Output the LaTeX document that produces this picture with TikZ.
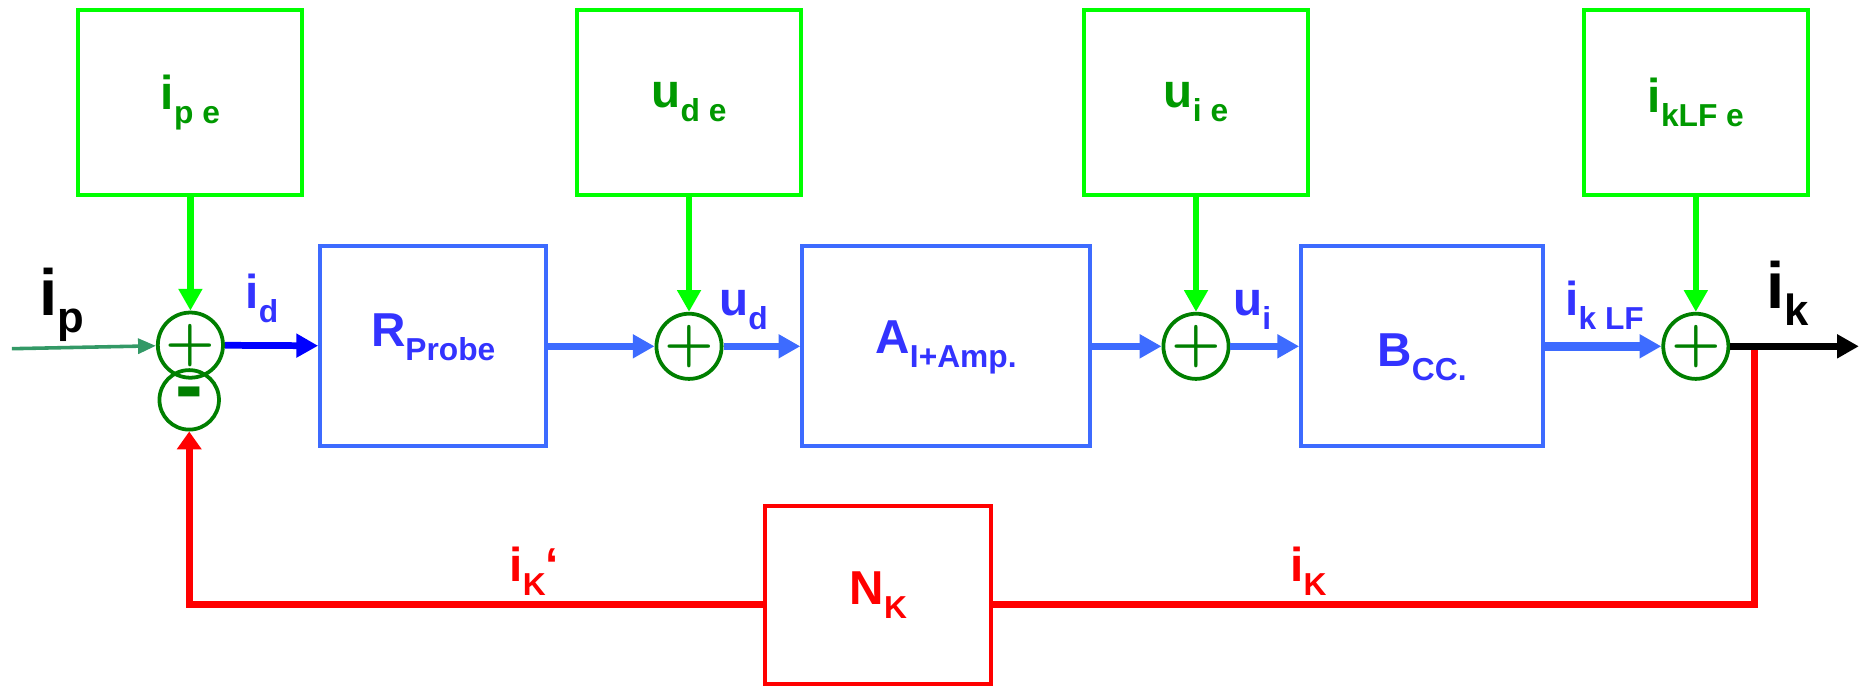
\documentclass[tikz,border=0pt]{standalone}
\usepackage{fontspec}
\setmainfont{Liberation Sans}
\newfontfamily\plusfont{lmroman10-bold.otf}
\usepackage{xcolor}
\usetikzlibrary{arrows.meta, positioning}

\definecolor{limegreen}{HTML}{00FF00}
\definecolor{sumgreen}{HTML}{007F00}
\definecolor{labelgreen}{HTML}{009900}
\definecolor{boxblue}{HTML}{3D6BFF}
\definecolor{textblue}{HTML}{3333FF}
\definecolor{seagreen}{HTML}{339966}

\newcommand{\lsub}[1]{\raisebox{-7pt}{\fontsize{16}{16}\selectfont #1}}
\newcommand{\bigsub}[1]{\raisebox{-8.5pt}{\fontsize{22}{22}\selectfont #1}}
\newcommand{\boxtext}[2]{\smash{\raisebox{#1}{#2}}}

\begin{document}
\begin{tikzpicture}[x=0.6pt, y=-0.6pt,
  font=\bfseries\fontsize{24}{24}\selectfont,
  errbox/.style={draw=limegreen, line width=2pt, text=labelgreen, minimum width=113pt, minimum height=93pt, inner sep=0pt},
  blockbox/.style={draw=boxblue, line width=2pt, text=textblue, minimum height=101pt, inner sep=0pt},
  fbbox/.style={draw=red, line width=2pt, text=red, minimum width=114pt, minimum height=90pt, inner sep=0pt},
  sumnode/.style={circle, draw=sumgreen, line width=1.9pt, text=sumgreen, minimum size=30pt, inner sep=0pt, font=\plusfont\fontsize{28}{28}\selectfont},
  lbl/.style={anchor=base west, inner sep=0pt},
  bigtip/.style={-{Triangle[length=11pt, width=11.5pt]}},
  gline/.style={draw=limegreen, line width=3.2pt, bigtip},
  bline/.style={draw=boxblue, line width=3.4pt, bigtip},
  fbline/.style={draw=red, line width=3.6pt}]
\useasboundingbox (0,0) rectangle (1568,578);

\foreach \nm/\x/\txt in {epe/160/{i\lsub{p e}}, ede/579/{u\lsub{d e}}, eie/1005/{u\lsub{i e}}, eklf/1425/{i\lsub{kLF e}}}
  \node[errbox] (\nm) at (\x,86) {\txt};

\node[blockbox, minimum width=114pt] (R) at (364,291) {\boxtext{0pt}{R\lsub{Probe}}};
\node[blockbox, minimum width=145pt] (A) at (795,291) {\boxtext{-3.6pt}{A\lsub{I+Amp.}}};
\node[blockbox, minimum width=122pt] (B) at (1195,291) {\boxtext{-10pt}{B\lsub{CC.}}};
\node[fbbox] (N) at (738,500) {N\lsub{K}};

\node[sumnode] (s1) at (160,290) {+};
\node[sumnode, font=\bfseries\fontsize{42}{42}\selectfont] (m1) at (159,336) {-};
\node[sumnode] (s2) at (579,291) {+};
\node[sumnode] (s3) at (1005,291) {+};
\node[sumnode] (s4) at (1425,291) {+};

\foreach \a/\b in {epe/s1, ede/s2, eie/s3, eklf/s4}
  \draw[gline] (\a) -- (\b);

\coordinate (ipin) at (10,293);
\draw[draw=seagreen, line width=1.8pt, -{Triangle[length=9pt, width=7.5pt]}] (ipin) -- (s1);
\draw[draw=blue, line width=3.4pt, bigtip] (s1) -- (R);
\draw[bline] (R) -- (s2);
\draw[bline] (s2) -- (A);
\draw[bline] (A) -- (s3);
\draw[bline] (s3) -- (B);
\draw[bline, line width=4.6pt] (B) -- (s4);

\coordinate (tap) at (1474,291);
\coordinate (rc) at (1474,508);
\draw[fbline] (tap) -- (rc) -- (rc -| N.east);
\draw[fbline, -{Triangle[length=9pt, width=12pt]}] (rc -| N.west) -- (m1 |- rc) -- (m1);

\coordinate (ikout) at (1562,291);
\draw[line width=3.4pt, bigtip] (s4) -- (ikout);

\node[lbl] (lip) at (33,265) {\fontsize{33}{33}\selectfont i\bigsub{p}};
\node[lbl, text=textblue] (lid) at (206,259) {i\lsub{d}};
\node[lbl, text=textblue] (lud) at (604,265) {u\lsub{d}};
\node[lbl, text=textblue] (lui) at (1036,265) {u\lsub{i}};
\node[lbl, text=textblue] (liklf) at (1315,265) {i\lsub{k LF}};
\node[lbl] (lik) at (1484,259) {\fontsize{33}{33}\selectfont i\bigsub{k}};
\node[lbl, text=red] (likp) at (428,489) {i\lsub{K}\textquoteleft};
\node[lbl, text=red] (likk) at (1084,489) {i\lsub{K}};
\end{tikzpicture}
\end{document}
